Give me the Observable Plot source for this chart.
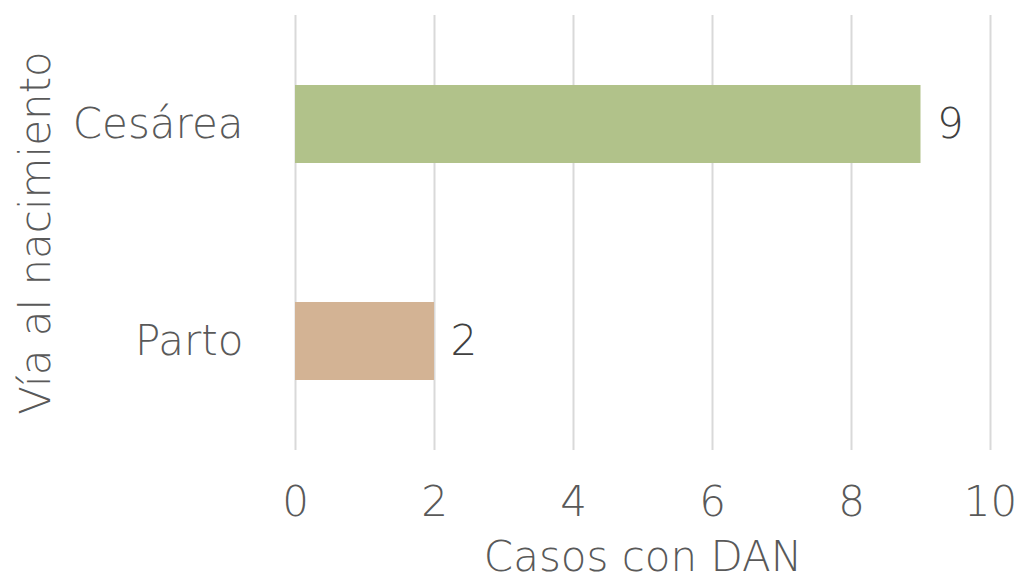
<!DOCTYPE html>
<html><head><meta charset="utf-8">
<script src="https://cdn.jsdelivr.net/npm/d3@7"></script>
<script src="https://cdn.jsdelivr.net/npm/@observablehq/plot@0.6"></script>
<style>body{margin:0;background:#fff}</style>
</head><body><div id="chart"></div>
<script>
const categories = ["Cesárea", "Parto"];
const values = [9, 2];
const colors = ["#b1c28a", "#d3b394"];
const xTicks = [0, 2, 4, 6, 8, 10];
const xTitle = "Casos con DAN";
const yTitle = "Vía al nacimiento";

const data = categories.map((c, i) => ({cat: c, val: values[i], color: colors[i]}));
const font = "'DejaVu Sans', sans-serif";
const fs = 42;
const chart = Plot.plot({
  width: 1023, height: 584,
  marginLeft: 295, marginRight: 33, marginTop: 15, marginBottom: 134,
  style: {fontFamily: font, fontSize: fs + "px", fontWeight: 200, color: "#595959", background: "#fff"},
  x: {domain: [0, 10], ticks: xTicks},
  y: {domain: categories, paddingInner: 0.64, paddingOuter: 0.32},
  marks: [
    Plot.ruleX(xTicks, {stroke: "#d9d9d9", strokeWidth: 2}),
    Plot.barX(data, {x: "val", y: "cat", fill: "color"}),
    Plot.text(data, {x: "val", y: "cat", text: d => String(d.val), textAnchor: "start", dx: 16, fill: "#404040", fontSize: fs}),
    Plot.axisX({ticks: xTicks, tickSize: 0, tickPadding: 36, label: null, fontSize: fs, fill: "#595959"}),
    Plot.axisY({tickSize: 0, tickPadding: 52, label: null, fontSize: fs, fill: "#595959"}),
    Plot.text([xTitle], {frameAnchor: "bottom", dy: 107, text: d => d, fontSize: fs, fill: "#595959", lineAnchor: "middle"}),
    Plot.text([yTitle], {frameAnchor: "left", dx: -259, text: d => d, rotate: -90, textAnchor: "middle", fontSize: fs, fill: "#595959", lineAnchor: "middle"})
  ]
});
document.getElementById("chart").appendChild(chart);
</script></body></html>
